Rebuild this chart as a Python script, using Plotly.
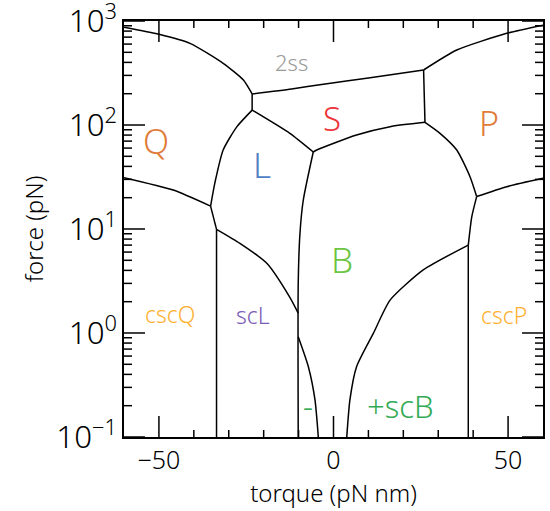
import math
import plotly.graph_objects as go

# Phase boundaries: torque (pN nm) and force (pN)
q2ss_t = [-60, -50, -41.1, -31.6, -25.8, -23.3]
q2ss_f = [871, 745, 610, 392, 271, 199]

ab_t = [-23.3, -23.3]
ab_f = [199, 139]

ss2_t = [-23.3, -12, -2.9, 10, 25.8]
ss2_f = [199, 222, 247, 283, 338]

p2ss_t = [25.8, 35.3, 49.6, 60]
p2ss_f = [338, 526, 762, 912]

sp_t = [25.8, 26.2]
sp_f = [338, 106]

sb_t = [-5.8, -4.8, 6.6, 16.2, 26.2]
sb_f = [55, 57.5, 80.2, 96.4, 106]

ls_t = [-23.3, -12.5, -5.8]
ls_f = [139, 83, 55]

lq_t = [-23.3, -27.7, -31.6, -34.0, -35.2]
lq_f = [139, 96, 57.5, 27.5, 16.6]

qcsc_t = [-60, -45.9, -35.2]
qcsc_f = [31.2, 23.7, 16.6]

de_t = [-35.2, -33.5]
de_f = [16.6, 9.93]

e_vert_t = [-33.5, -33.5]
e_vert_f = [9.93, 0.1]

lscl_t = [-33.5, -26.8, -19.1, -12.5, -10.1]
lscl_f = [9.93, 7.28, 4.68, 2.2, 1.55]

lb_t = [-5.8, -8.65, -9.6, -10.1, -10.1]
lb_f = [55, 19.0, 9.1, 3.0, 0.1]

minus_t = [-10.1, -7.2, -5.3, -4.35]
minus_f = [0.92, 0.474, 0.227, 0.1]

plus_t = [3.8, 4.7, 6.6, 11.4, 16.2, 25.7, 38.6]
plus_f = [0.1, 0.227, 0.474, 0.99, 2.07, 4.04, 7.0]

f_vert_t = [38.6, 38.6]
f_vert_f = [7.0, 0.1]

fg_t = [38.6, 39.6, 41.0]
fg_f = [7.0, 13.1, 20.5]

gr_t = [41.0, 49.6, 60]
gr_f = [20.5, 25.5, 30.7]

gh_t = [41.0, 39.1, 35.3, 30.5, 26.2]
gh_f = [20.5, 31.8, 57.5, 83.2, 106]

curves = [
    (q2ss_t, q2ss_f), (ab_t, ab_f), (ss2_t, ss2_f), (p2ss_t, p2ss_f),
    (sp_t, sp_f), (sb_t, sb_f), (ls_t, ls_f), (lq_t, lq_f),
    (qcsc_t, qcsc_f), (de_t, de_f), (e_vert_t, e_vert_f),
    (lscl_t, lscl_f), (lb_t, lb_f), (minus_t, minus_f),
    (plus_t, plus_f), (f_vert_t, f_vert_f), (fg_t, fg_f),
    (gr_t, gr_f), (gh_t, gh_f),
]

# Region labels
label_text = ["2ss", "S", "P", "Q", "L", "B", "cscQ", "scL", "cscP", "-", "+scB"]
label_t = [-12.0, -0.5, 44.4, -50.7, -20.6, 2.5, -46.7, -23.0, 48.7, -7.2, 19.1]
label_f = [399, 112, 102, 69, 41, 5.0, 1.49, 1.46, 1.46, 0.195, 0.195]
label_color = ["#999999", "#EE3338", "#E07B39", "#E07B39", "#4F7FC4", "#6CC644",
               "#FFB030", "#7A5BB5", "#FFB030", "#33AA55", "#33AA55"]
label_size = [22, 33, 34, 34, 35, 35, 23, 23, 23, 31, 31]

# Tick positions
x_major_ticks = [-50, 0, 50]
x_minor_ticks = [-40, -30, -20, -10, 10, 20, 30, 40]
y_decades = [0.1, 1, 10, 100]
y_major_ticks = [0.1, 1, 10, 100, 1000]
y_minor_ticks = [m * d for d in y_decades for m in range(2, 10)]

# Tick label aliases for the log axis
y_alias = {"0.1": "10<sup>\u22121</sup>", "1": "10<sup>0</sup>", "10": "10<sup>1</sup>",
           "100": "10<sup>2</sup>", "1000": "10<sup>3</sup>"}

FONT = "Noto Sans"
W = 300

fig = go.Figure()
for t, f in curves:
    fig.add_trace(go.Scatter(x=t, y=f, mode="lines",
                             line=dict(color="black", width=1.5, shape="spline", smoothing=0.6),
                             showlegend=False, hoverinfo="skip"))

for txt, t, f, c, s in zip(label_text, label_t, label_f, label_color, label_size):
    fig.add_annotation(x=t, y=math.log10(f), yref="y", xref="x", text=txt, showarrow=False,
                       yshift=1, font=dict(family=FONT, size=s, color=c, weight=W))

# Inward tick marks on all four sides (lengths as fractions of the plot area)
PLOT_W, PLOT_H = 419, 416
MAJ, MIN_X, MIN_Y = 21, 7, 8
tick_line = dict(color="black", width=1.5)
for v, ln in [(v, MAJ) for v in x_major_ticks] + [(v, MIN_X) for v in x_minor_ticks]:
    fr = ln / PLOT_H
    fig.add_shape(type="line", xref="x", yref="paper", x0=v, x1=v, y0=0, y1=fr, line=tick_line)
    fig.add_shape(type="line", xref="x", yref="paper", x0=v, x1=v, y0=1, y1=1 - fr, line=tick_line)
for v, ln in [(v, MAJ) for v in y_major_ticks] + [(v, MIN_Y) for v in y_minor_ticks]:
    fr = ln / PLOT_W
    fig.add_shape(type="line", xref="paper", yref="y", x0=0, x1=fr, y0=v, y1=v, line=tick_line)
    fig.add_shape(type="line", xref="paper", yref="y", x0=1, x1=1 - fr, y0=v, y1=v, line=tick_line)

axis_common = dict(showline=True, linecolor="black", linewidth=2, mirror=True,
                   ticks="", showgrid=False, zeroline=False,
                   tickfont=dict(family=FONT, size=25, color="black", weight=W))

fig.update_xaxes(range=[-60, 60], tickmode="linear", tick0=-50, dtick=50,
                 title=dict(text="torque (pN nm)", font=dict(family=FONT, size=24, color="black", weight=W), standoff=0),
                 **axis_common)
fig.update_yaxes(type="log", range=[-1.0001, 3.0001], tickmode="linear", tick0=0, dtick=1,
                 labelalias=y_alias, exponentformat="power",
                 ticklabeloverflow="allow", automargin=False,
                 title=dict(text="force (pN)", font=dict(family=FONT, size=24, color="black", weight=W), standoff=6),
                 **axis_common)

fig.update_layout(width=550, height=511, margin=dict(l=124, r=7, t=21, b=74),
                  plot_bgcolor="white", paper_bgcolor="white")

fig.write_html("out.html")
